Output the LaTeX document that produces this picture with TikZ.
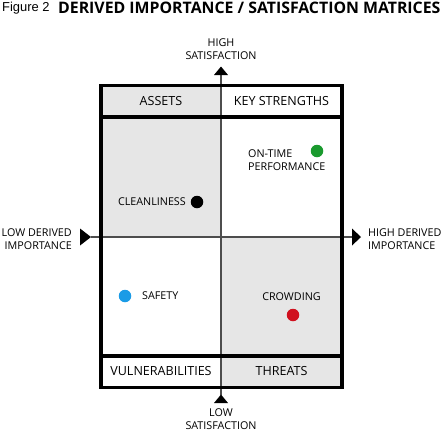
\documentclass[tikz,border=0pt]{standalone}
\usepackage{fontspec}
\setmainfont{Open Sans}
\newfontfamily\figfont{Liberation Sans}
\newfontfamily\titlefont{Open Sans}
\usetikzlibrary{calc}
\definecolor{cellgray}{HTML}{E6E6E6}
\definecolor{axisgray}{HTML}{4D4D4D}
\definecolor{dotgreen}{HTML}{1A9A2E}
\definecolor{dotblue}{HTML}{1A9BE6}
\definecolor{dotred}{HTML}{D0101E}
\tikzset{
  lbl/.style={inner sep=0pt, font=\fontsize{10.8}{13.5}\selectfont, align=center},
  lbll/.style={lbl, anchor=west, align=left},
  lblr/.style={lbl, anchor=east, align=right},
  celltitle/.style={inner sep=0pt, font=\fontsize{12.6}{14}\selectfont},
  border/.style={line width=3.4pt, line cap=rect},
  axisline/.style={line width=2pt, axisgray},
  tri/.style={fill=black},
  dot/.style={circle, inner sep=0pt, minimum size=12.5bp}
}
\begin{document}
\begin{tikzpicture}[x=1bp,y=-1bp]
\useasboundingbox (0,0) rectangle (442,432);
% shaded cells
\fill[cellgray] (101,85.5) rectangle (221,237);
\fill[cellgray] (221,237) rectangle (342,387.5);
% axes
\coordinate (axL) at (91,237);
\coordinate (axR) at (352,237);
\coordinate (axT) at (221,74);
\coordinate (axB) at (221,395);
\draw[axisline] (axL) -- (axR);
\draw[axisline] (axB) -- (axT);
\fill[tri] (80,228.5) -- (91,237) -- (80,245.5) -- cycle;
\fill[tri] (352,228.5) -- (361,237) -- (352,245.5) -- cycle;
\fill[tri] (214,75) -- (221,66.5) -- (228,75) -- cycle;
\fill[tri] (214,403) -- (221,394.5) -- (228,403) -- cycle;
% box
\draw[border] (101,85.5) rectangle (342,387.5);
\draw[border] (101,117) -- (342,117);
\draw[border] (101,356) -- (342,356);
% title
\node[inner sep=0pt, anchor=west, font=\figfont\fontsize{13}{15}\selectfont] (fig) at (2,8) {Figure 2};
\node[inner sep=0pt, anchor=west, font=\titlefont\bfseries\fontsize{15.9}{17}\selectfont] (title) at (58,8) {DERIVED IMPORTANCE / SATISFACTION MATRICES};
% axis labels
\node[lbl] (hisat) at (221,49) {HIGH\\SATISFACTION};
\node[lbl] (losat) at (221,419) {LOW\\SATISFACTION};
\node[lblr] (loimp) at (72,239) {LOW DERIVED\\IMPORTANCE};
\node[lbll] (hiimp) at (368,239) {HIGH DERIVED\\IMPORTANCE};
% cell titles
\node[celltitle] (assets) at (161,101) {ASSETS};
\node[celltitle] (keystr) at (281.5,101) {KEY STRENGTHS};
\node[celltitle] (vuln) at (161,371.5) {VULNERABILITIES};
\node[celltitle] (threats) at (281.5,371.5) {THREATS};
% items
\node[lbll] (ontime) at (248,160) {ON-TIME\\PERFORMANCE};
\node[dot, fill=dotgreen] (gdot) at (317,151) {};
\node[lblr] (clean) at (186,202) {CLEANLINESS};
\node[dot, fill=black] (kdot) at (197,202) {};
\node[lbll] (safety) at (142,296) {SAFETY};
\node[dot, fill=dotblue] (bdot) at (125,296) {};
\node[lbl] (crowd) at (291.5,297) {CROWDING};
\node[dot, fill=dotred] (rdot) at (293,315) {};
\end{tikzpicture}
\end{document}
